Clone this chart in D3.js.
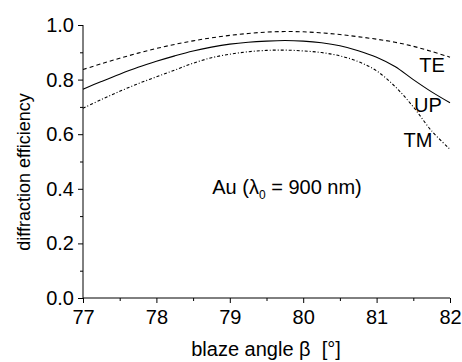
<!DOCTYPE html>
<html>
<head>
<meta charset="utf-8">
<script src="https://cdn.jsdelivr.net/npm/d3@7.9.0/dist/d3.min.js"></script>
<style>
  body { margin: 0; background: #fff; }
  svg { font-family: "Liberation Sans", Arial, sans-serif; }
</style>
</head>
<body>
<svg id="chart" width="462" height="362"></svg>
<script>
// --- data ---
const angles = [77, 77.25, 77.5, 77.75, 78, 78.25, 78.5, 78.75, 79, 79.25, 79.5,
                79.75, 80, 80.25, 80.5, 80.75, 81, 81.25, 81.5, 81.75, 82];
const te = [0.837, 0.858, 0.878, 0.897, 0.914, 0.929, 0.942, 0.953, 0.962, 0.969, 0.974,
            0.976, 0.975, 0.971, 0.965, 0.957, 0.948, 0.937, 0.922, 0.903, 0.882];
const up = [0.765, 0.793, 0.82, 0.845, 0.867, 0.887, 0.905, 0.919, 0.93, 0.937, 0.941,
            0.943, 0.941, 0.935, 0.924, 0.906, 0.882, 0.848, 0.8, 0.755, 0.715];
const tm = [0.695, 0.727, 0.757, 0.785, 0.81, 0.835, 0.86, 0.88, 0.893, 0.902, 0.907,
            0.908, 0.905, 0.899, 0.887, 0.866, 0.832, 0.775, 0.7, 0.612, 0.545];
const xTicks = [77, 78, 79, 80, 81, 82];
const yTicks = [0.0, 0.2, 0.4, 0.6, 0.8, 1.0];

const series = [
  { name: 'TE', values: te, dash: '4,3', lx: 432, ly: 72 },
  { name: 'UP', values: up, dash: null, lx: 428, ly: 112 },
  { name: 'TM', values: tm, dash: '3,2,1,2', lx: 418, ly: 147 }
];

const svg = d3.select('#chart');
const mLeft = 83, mRight = 450, mTop = 25, mBottom = 298;

const x = d3.scaleLinear().domain([77, 82]).range([mLeft, mRight]);
const y = d3.scaleLinear().domain([0, 1]).range([mBottom, mTop]);

// axes
const xAxis = svg.append('g').attr('transform', `translate(0,${mBottom})`)
  .call(d3.axisBottom(x).tickValues(xTicks).tickFormat(d3.format('d'))
        .tickSize(5).tickPadding(7));
svg.append('g').attr('transform', `translate(0,${mBottom})`)
  .call(d3.axisBottom(x).tickValues(d3.range(77.5, 82, 1)).tickFormat('').tickSize(3))
  .select('.domain').remove();

const yAxis = svg.append('g').attr('transform', `translate(${mLeft},0)`)
  .call(d3.axisLeft(y).tickValues(yTicks).tickFormat(d3.format('.1f'))
        .tickSize(5).tickPadding(4));
svg.append('g').attr('transform', `translate(${mLeft},0)`)
  .call(d3.axisLeft(y).tickValues([0.1, 0.3, 0.5, 0.7, 0.9]).tickFormat('').tickSize(3))
  .select('.domain').remove();

svg.selectAll('.domain').attr('stroke', '#000').attr('stroke-width', 1);
svg.selectAll('.tick line').attr('stroke', '#000');
xAxis.selectAll('.tick text').attr('font-size', 20).attr('fill', '#000')
  .attr('font-family', '"Liberation Sans", Arial, sans-serif');
yAxis.selectAll('.tick text').attr('font-size', 20).attr('fill', '#000')
  .attr('font-family', '"Liberation Sans", Arial, sans-serif');
// no outer ticks on the spines
xAxis.select('.domain').attr('d', `M${mLeft},0H${mRight}`);
yAxis.select('.domain').attr('d', `M0,${mBottom}V${mTop}`);

// lines
const line = d3.line()
  .x((d, i) => x(angles[i]))
  .y(d => y(d))
  .curve(d3.curveCatmullRom);

series.forEach(s => {
  svg.append('path')
    .attr('d', line(s.values))
    .attr('fill', 'none')
    .attr('stroke', '#000')
    .attr('stroke-width', 1.1)
    .attr('stroke-dasharray', s.dash);
  svg.append('text')
    .attr('x', s.lx).attr('y', s.ly)
    .attr('text-anchor', 'middle')
    .attr('font-size', 20)
    .text(s.name);
});

// annotation
const ann = svg.append('text').attr('x', 287).attr('y', 194)
  .attr('text-anchor', 'middle').attr('font-size', 20);
ann.append('tspan').text('Au (λ');
ann.append('tspan').attr('font-size', 12).attr('dy', 5).text('0');
ann.append('tspan').attr('dy', -5).text(' = 900 nm)');

// axis titles
svg.append('text')
  .attr('transform', 'translate(30,172) rotate(-90)')
  .attr('text-anchor', 'middle')
  .attr('font-size', 18)
  .text('diffraction efficiency');

svg.append('text')
  .attr('x', 266).attr('y', 356)
  .attr('text-anchor', 'middle')
  .attr('font-size', 20)
  .attr('xml:space', 'preserve')
  .text('blaze angle β  [°]');
</script>
</body>
</html>
